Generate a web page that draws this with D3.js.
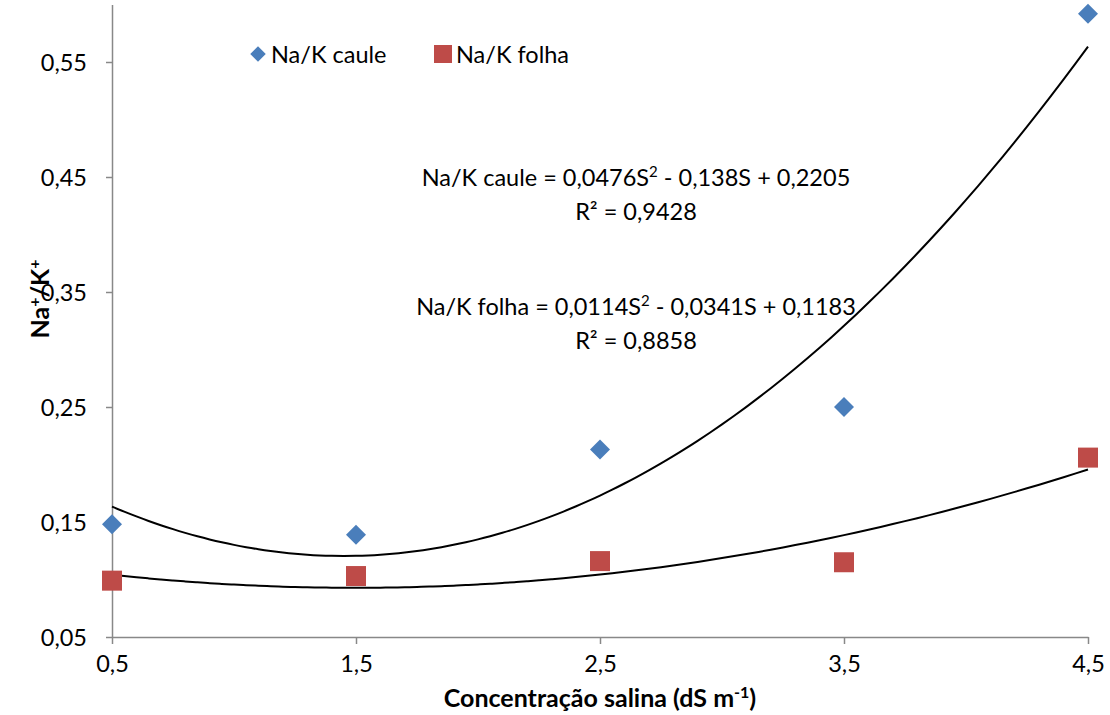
<!DOCTYPE html>
<html><head><meta charset="utf-8">
<script src="https://cdn.jsdelivr.net/npm/d3@7"></script>
<style>body{margin:0;background:#fff}svg{font-family:Lato,"Open Sans",sans-serif}</style>
</head><body><svg id="c" width="1110" height="715"></svg>
<script>
const salinity = [0.5, 1.5, 2.5, 3.5, 4.5];
const cauleValues = [0.148, 0.139, 0.213, 0.250, 0.592];
const folhaValues = [0.099, 0.103, 0.116, 0.115, 0.206];
const cauleCoef = [0.0476, -0.138, 0.2205];
const folhaCoef = [0.0114, -0.0341, 0.1183];
const xTicks = [0.5, 1.5, 2.5, 3.5, 4.5];
const yTicks = [0.05, 0.15, 0.25, 0.35, 0.45, 0.55];

const FS = 23.5;
const svg = d3.select("#c");
const x = d3.scaleLinear().domain([0.5, 4.5]).range([112, 1088]);
const y = d3.scaleLinear().domain([0.05, 0.6]).range([637, 4.5]);
const fmt = d => d3.format(".2f")(d).replace(".", ",");
const fmtx = d => d3.format(".1f")(d).replace(".", ",");

const gy = svg.append("g").attr("transform", "translate(112,0)")
  .call(d3.axisLeft(y).tickValues(yTicks).tickFormat(fmt).tickSize(6).tickPadding(19).tickSizeOuter(0));
const gx = svg.append("g").attr("transform", "translate(0,637)")
  .call(d3.axisBottom(x).tickValues(xTicks).tickFormat(fmtx).tickSize(7).tickPadding(11).tickSizeOuter(0));
[gx, gy].forEach(g => {
  g.select(".domain").attr("stroke", "#888").attr("stroke-width", 1.5);
  g.selectAll(".tick line").attr("stroke", "#888").attr("stroke-width", 1.5);
  g.selectAll("text").attr("font-size", FS).attr("fill", "#000").attr("font-family", "Lato, sans-serif");
});
gy.selectAll("text").attr("dy", "0.35em");

const poly = c => s => c[0]*s*s + c[1]*s + c[2];
const line = d3.line().x(d => x(d[0])).y(d => y(d[1])).curve(d3.curveMonotoneX);
[cauleCoef, folhaCoef].forEach(c => {
  const f = poly(c);
  const pts = d3.range(0.5, 4.5001, 0.05).map(s => [s, f(s)]);
  svg.append("path").attr("d", line(pts)).attr("fill", "none").attr("stroke", "#000").attr("stroke-width", 2);
});

const diamond = d3.symbol().type(d3.symbolSquare).size(200);
svg.selectAll(".cau").data(salinity).enter().append("path")
  .attr("d", diamond).attr("fill", "#4A7EBB")
  .attr("transform", (d,i) => `translate(${x(d)},${y(cauleValues[i])}) rotate(45)`);
svg.selectAll(".fol").data(salinity).enter().append("rect")
  .attr("x", d => x(d) - 10).attr("y", (d,i) => y(folhaValues[i]) - 10)
  .attr("width", 20).attr("height", 20).attr("fill", "#BE4B48");

// legend
svg.append("path").attr("d", d3.symbol().type(d3.symbolSquare).size(120)).attr("fill", "#4A7EBB")
  .attr("transform", "translate(258,54) rotate(45)");
svg.append("text").attr("x", 271).attr("y", 63).attr("font-size", FS).text("Na/K caule");
svg.append("rect").attr("x", 434).attr("y", 45).attr("width", 18).attr("height", 18).attr("fill", "#BE4B48");
svg.append("text").attr("x", 456).attr("y", 63).attr("font-size", FS).text("Na/K folha");

// equations
function eq(cx, cyy, name, a, b, c, r2) {
  const t = svg.append("text").attr("x", cx).attr("y", cyy).attr("text-anchor", "middle").attr("font-size", FS);
  t.append("tspan").text(`${name} = ${a}S`);
  t.append("tspan").attr("font-size", 15).attr("dy", -9).text("2");
  t.append("tspan").attr("dy", 9).text(` - ${b}S + ${c}`);
  svg.append("text").attr("x", cx).attr("y", cyy + 34).attr("text-anchor", "middle").attr("font-size", FS).text(`R² = ${r2}`);
}
eq(636, 186, "Na/K caule", "0,0476", "0,138", "0,2205", "0,9428");
eq(636, 315, "Na/K folha", "0,0114", "0,0341", "0,1183", "0,8858");

// axis titles
svg.append("text").attr("transform", "translate(49,299) rotate(-90)").attr("text-anchor", "middle")
  .attr("font-size", 25).attr("font-weight", "bold")
  .html('Na<tspan dy="-9" font-size="16">+</tspan><tspan dy="9">/K</tspan><tspan dy="-9" font-size="16">+</tspan>');
svg.append("text").attr("x", 600).attr("y", 707).attr("text-anchor", "middle")
  .attr("font-size", 25).attr("font-weight", "bold")
  .html('Concentração salina (dS m<tspan dy="-9" font-size="16">-1</tspan><tspan dy="9">)</tspan>');
</script></body></html>
